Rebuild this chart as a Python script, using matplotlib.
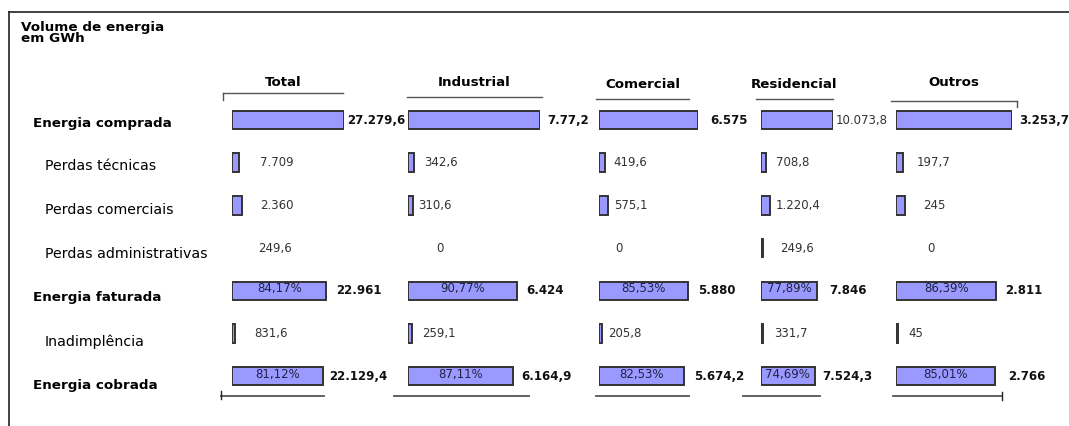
import matplotlib.pyplot as plt
from matplotlib.lines import Line2D

plt.rcParams['font.family'] = 'DejaVu Sans'

W, H = 1069, 426

columns = ['Total', 'Industrial', 'Comercial', 'Residencial', 'Outros']
rows = ['Energia comprada', 'Perdas técnicas', 'Perdas comerciais',
        'Perdas administrativas', 'Energia faturada', 'Inadimplência',
        'Energia cobrada']
bold_rows = [True, False, False, False, True, False, True]

# volume de energia (GWh) per column, used for bar lengths
comprada = [27279.6, 7772.0, 6575.0, 10073.8, 3253.7]
perdas_tecnicas = [1668.7, 342.6, 419.6, 708.8, 197.7]   # Total bar drawn from the column sum
perdas_comerciais = [2360.0, 310.6, 575.1, 1220.4, 245.0]
perdas_admin = [0.0, 0.0, 0.0, 249.6, 0.0]
faturada = [22961.0, 6424.0, 5880.0, 7846.0, 2811.0]
inadimplencia = [831.6, 259.1, 205.8, 331.7, 45.0]
cobrada = [22129.4, 6164.9, 5674.2, 7524.3, 2766.0]

# labels as printed on the chart
comprada_lbl = ['27.279,6', '7.77,2', '6.575', '10.073,8', '3.253,7']
tecnicas_lbl = ['7.709', '342,6', '419,6', '708,8', '197,7']
comerciais_lbl = ['2.360', '310,6', '575,1', '1.220,4', '245']
admin_lbl = ['249,6', '0', '0', '249,6', '0']
faturada_lbl = ['22.961', '6.424', '5.880', '7.846', '2.811']
inad_lbl = ['831,6', '259,1', '205,8', '331,7', '45']
cobrada_lbl = ['22.129,4', '6.164,9', '5.674,2', '7.524,3', '2.766']
faturada_pct = ['84,17%', '90,77%', '85,53%', '77,89%', '86,39%']
cobrada_pct = ['81,12%', '87,11%', '82,53%', '74,69%', '85,01%']

values = [comprada, perdas_tecnicas, perdas_comerciais, perdas_admin,
          faturada, inadimplencia, cobrada]
labels = [comprada_lbl, tecnicas_lbl, comerciais_lbl, admin_lbl,
          faturada_lbl, inad_lbl, cobrada_lbl]
pcts = {4: faturada_pct, 6: cobrada_pct}

# layout (pixels)
bar_left = [232, 408, 599, 761, 896]
bar_width = [112, 132, 99, 72, 116]
row_top, row_step = 120, 42.67
label_gap = [  # px from bar end, per row x column
    [3, 7, 12, 3, 7],
    [21, 10, 8, 10, 14],
    [18, 5, 6, 6, 18],
    [26, 28, 16, 17, 31],
    [10, 9, 11, 12, 9],
    [19, 10, 6, 11, 11],
    [6, 9, 10, 7, 14],
]
head_y = [82, 82, 84, 84, 82]
top_line = [(223, 343, 93), (407, 542, 97), (596, 689, 99), (756, 833, 99), (891, 1017, 101)]
bot_line = [(221, 324), (394, 529), (596, 689), (743, 820), (893, 1002)]
row_label_y = [124, 166, 210, 254, 298, 342, 385]

BAR = '#9999ff'
EDGE = '#333333'

fig = plt.figure(figsize=(W / 100, H / 100), dpi=100)


def fx(x):
    return x / W


def fy(y):
    return 1 - y / H


def line(x0, y0, x1, y1, color='#333333', lw=1.0):
    fig.add_artist(Line2D([fx(x0), fx(x1)], [fy(y0), fy(y1)], color=color, lw=lw))


# outer frame (top and left)
line(9, 12, W, 12, color='#222222', lw=1.2)
line(9, 12, 9, H, color='#222222', lw=1.2)

fig.text(fx(21), fy(27), 'Volume de energia', fontsize=9.7, fontweight='bold', va='center')
fig.text(fx(21), fy(39), 'em GWh', fontsize=9.7, fontweight='bold', va='center')

for r, name in enumerate(rows):
    if bold_rows[r]:
        fig.text(fx(33), fy(row_label_y[r]), name, fontsize=9.7, fontweight='bold', va='center')
    else:
        fig.text(fx(45), fy(row_label_y[r]), name, fontsize=10.2, va='center')

y_top = row_top - row_step / 2
y_bot = row_top + 6 * row_step + row_step / 2

for c, col in enumerate(columns):
    ax = fig.add_axes([fx(bar_left[c]), fy(y_bot), bar_width[c] / W, (y_bot - y_top) / H])
    ax.set_xlim(0, comprada[c])
    ax.set_ylim(6.5, -0.5)
    ax.axis('off')

    for r in range(len(rows)):
        v = values[r][c]
        if v > 0:
            ax.barh(r, v, height=0.43, left=0, color=BAR, edgecolor=EDGE, linewidth=1.4)
        big = r in (0, 4, 6)
        bold = big and not (r == 0 and c == 3)
        ax.annotate(labels[r][c], xy=(v, r), xytext=(label_gap[r][c], 0),
                    textcoords='offset pixels', va='center', ha='left',
                    fontsize=8.5, fontweight='bold' if bold else 'normal',
                    color='#111111' if bold else '#333333', annotation_clip=False)
        if r in pcts:
            ax.text(v / 2, r - 0.04, pcts[r][c], ha='center', va='center',
                    fontsize=8.5, color='#222244')

    # column header with its rule
    cx = (top_line[c][0] + top_line[c][1]) / 2
    fig.text(fx(cx), fy(head_y[c]), col, fontsize=9.6, fontweight='bold', ha='center', va='center')
    x0, x1, yl = top_line[c]
    line(x0, yl, x1, yl, color='#555555')
    b0, b1 = bot_line[c]
    line(b0, 396, b1, 396, color='#555555', lw=1.3)

# end ticks of the rules
line(223, 93, 223, 100, color='#555555')
line(1017, 101, 1017, 107, color='#555555')
line(221, 391, 221, 399, color='#222222')
line(1002, 392, 1002, 400, color='#222222')

fig.savefig('out.png', dpi=100)
